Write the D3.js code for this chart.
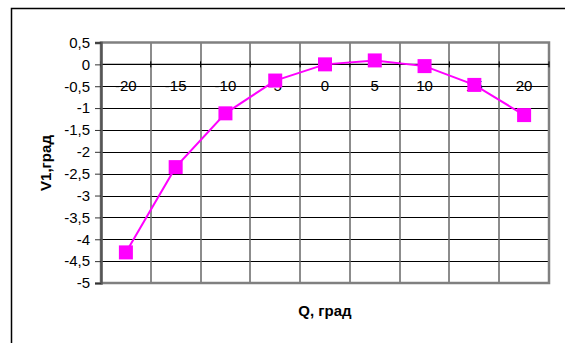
<!DOCTYPE html>
<html><head><meta charset="utf-8">
<script src="https://cdn.jsdelivr.net/npm/d3@7"></script>
<style>body{margin:0;background:#fff}svg{display:block}text{font-family:"Liberation Sans",Arial,sans-serif}</style>
</head><body>
<script>
const categories = [-20, -15, -10, -5, 0, 5, 10, 15, 20];
const values = [-4.3, -2.35, -1.12, -0.37, 0.0, 0.09, -0.04, -0.47, -1.16];
const yTicks = [0.5, 0, -0.5, -1, -1.5, -2, -2.5, -3, -3.5, -4, -4.5, -5];
const xTitle = "Q, град";
const yTitle = "V1,град";

const W = 565, H = 343;
const svg = d3.select("body").append("svg").attr("width", W).attr("height", H);
svg.append("rect").attr("x", 11.5).attr("y", 8.5).attr("width", 600).attr("height", 400)
  .attr("fill", "#fff").attr("stroke", "#000").attr("stroke-width", 1.5);

const L = 101, R = 549, T = 42.5, B = 283;
const x = d3.scaleBand().domain(categories).range([L, R]);
const y = d3.scaleLinear().domain([-5, 0.5]).range([B, T]);

const g = svg.append("g");
g.selectAll("line.h").data(yTicks.filter(d => d !== 0.5 && d !== -5)).enter().append("line")
  .attr("x1", L).attr("x2", R).attr("y1", d => Math.round(y(d)) + 0.5).attr("y2", d => Math.round(y(d)) + 0.5)
  .attr("stroke", "#000").attr("stroke-width", 1);
const bounds = categories.slice(1).map(c => x(c));
g.selectAll("line.v").data(bounds).enter().append("line")
  .attr("x1", d => Math.round(d)).attr("x2", d => Math.round(d)).attr("y1", T).attr("y2", B)
  .attr("stroke", "#666").attr("stroke-width", 1.5);
g.append("rect").attr("x", L).attr("y", T).attr("width", R - L).attr("height", B - T)
  .attr("fill", "none").attr("stroke", "#808080").attr("stroke-width", 2.5);
g.append("line").attr("x1", L).attr("x2", R).attr("y1", y(0)).attr("y2", y(0))
  .attr("stroke", "#000").attr("stroke-width", 1.3);
g.selectAll("line.xt").data(categories.map(c => x(c)).concat([R])).enter().append("line")
  .attr("x1", d => d).attr("x2", d => d).attr("y1", y(0) - 3).attr("y2", y(0) + 3)
  .attr("stroke", "#000");
const yAxis = d3.axisLeft(y).tickValues(yTicks).tickSize(6).tickPadding(5)
  .tickFormat(d => String(d).replace(".", ","));
const ya = svg.append("g").attr("transform", `translate(${L},0)`).call(yAxis);
ya.attr("font-size", null).attr("font-family", null);
ya.select(".domain").attr("stroke", "#555").attr("stroke-width", 2.5);
ya.selectAll(".tick line").attr("stroke", "#333");
ya.selectAll("text").style("font-size", "15px").attr("fill", "#000");

svg.selectAll("text.xl").data(categories).enter().append("text")
  .attr("x", d => x(d) + x.bandwidth() / 2).attr("y", y(0) + 27)
  .attr("text-anchor", "middle").style("font-size", "15px").text(d => d);

const line = d3.line().x((d, i) => x(categories[i]) + x.bandwidth() / 2).y(d => y(d));
svg.append("path").datum(values).attr("d", line).attr("fill", "none")
  .attr("stroke", "#ff00ff").attr("stroke-width", 2);
svg.selectAll("rect.m").data(values).enter().append("rect")
  .attr("x", (d, i) => x(categories[i]) + x.bandwidth() / 2 - 7).attr("y", d => y(d) - 7)
  .attr("width", 14).attr("height", 14).attr("fill", "#ff00ff");

svg.append("text").attr("x", 325).attr("y", 316).attr("text-anchor", "middle")
  .style("font-size", "15px").attr("font-weight", "bold").text(xTitle);
svg.append("text").attr("transform", "translate(51,163) rotate(-90)").attr("text-anchor", "middle")
  .style("font-size", "15px").attr("font-weight", "bold").text(yTitle);
</script>
</body></html>
